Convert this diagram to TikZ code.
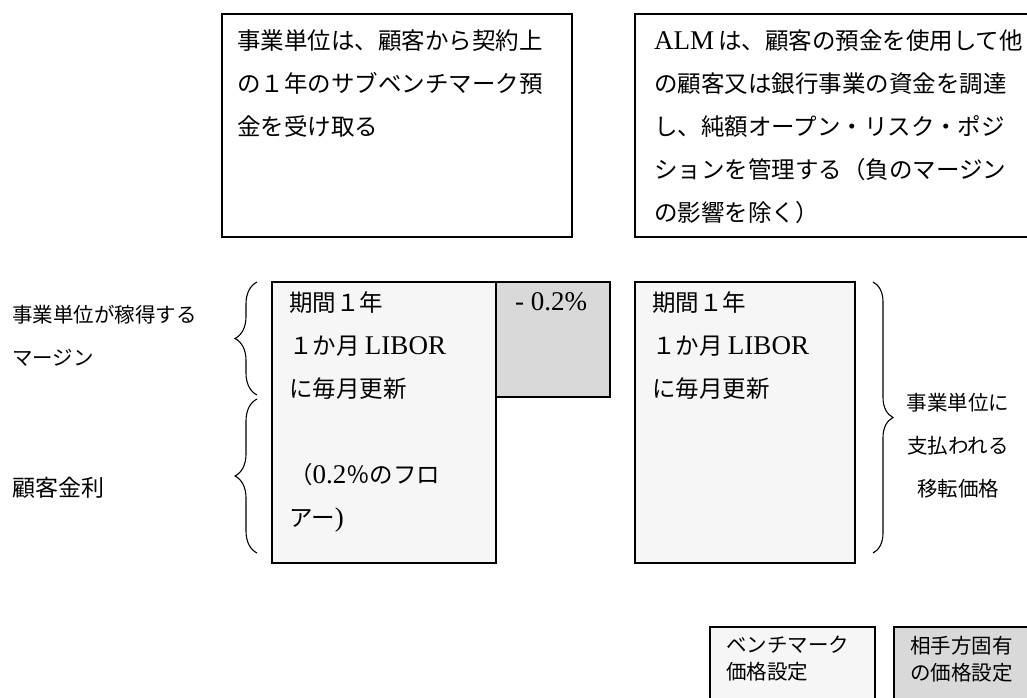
\documentclass[tikz,border=0pt]{standalone}
\usepackage{fontspec}
\setmainfont{Liberation Serif}[Scale=1.15]
\newfontfamily\jpfont{Noto Sans CJK JP}
\usetikzlibrary{decorations.pathreplacing}
\newcommand{\lat}[1]{{\rmfamily #1}}
\tikzset{
  box/.style={draw=black, line width=1.3pt},
  benchfill/.style={box, fill=gray!7},
  specfill/.style={box, fill=gray!30},
  txt/.style={anchor=north west, inner sep=0pt, align=left},
  bigtxt/.style={txt, font=\jpfont\fontsize{23.5}{43}\selectfont},
  sidetxt/.style={txt, font=\jpfont\fontsize{20.5}{43}\selectfont},
  keytxt/.style={txt, font=\jpfont\fontsize{20.5}{27}\selectfont},
  brc/.style={decorate, decoration={brace, amplitude=#1}, line width=1.1pt},
  brc/.default=22pt
}
\begin{document}
\begin{tikzpicture}[x=1pt, y=-1pt]
    \useasboundingbox (0,0) rectangle (1027,698);
    % top notes
    \draw[box] (222,14) rectangle (572,237);
    \node[bigtxt] (unitnote) at (237,30) {事業単位は、顧客から契約上\\の１年のサブベンチマーク預\\金を受け取る};
    \draw[box] (635,14) rectangle (1040,237);
    \node[bigtxt] (almnote) at (654,30) {\lat{ALM}\,は、顧客の預金を使用して他\\の顧客又は銀行事業の資金を調達\\し、純額オープン・リスク・ポジ\\ションを管理する（負のマージン\\の影響を除く）};
    % deposit and transfer price
    \filldraw[benchfill] (272,282) rectangle (496,563);
    \filldraw[specfill] (496,282) rectangle (610,397);
    \filldraw[benchfill] (635,282) rectangle (855,563);
    \node[bigtxt] (deposit) at (289,291) {期間１年\\ １か月 \lat{LIBOR}\\に毎月更新\\ \\ （\lat{0.2}％のフロ\\アー\lat{)}};
    \node[bigtxt] (spread) at (515,292) {\lat{- 0.2\%}};
    \node[bigtxt] (transfer) at (652,291) {期間１年\\１か月 \lat{LIBOR}\\に毎月更新};
    % braces and their labels
    \draw[brc] (257,395) -- (257,282);
    \draw[brc] (257,553) -- (257,399);
    \draw[brc=20pt] (873,282) -- (873,553);
    \node[sidetxt] (margin) at (12,305) {事業単位が稼得する\\マージン};
    \node[txt, font=\jpfont\fontsize{23}{43}\selectfont] (custrate) at (12,477) {顧客金利};
    \node[sidetxt, align=center, anchor=north] (paid) at (958,393) {事業単位に\\支払われる\\移転価格};
    % key
    \filldraw[benchfill] (710,627) rectangle (875,710);
    \node[keytxt] (benchkey) at (726,636) {ベンチマーク\\価格設定};
    \filldraw[specfill] (894,627) rectangle (1040,710);
    \node[keytxt] (speckey) at (910,636) {相手方固有\\の価格設定};
\end{tikzpicture}
\end{document}
